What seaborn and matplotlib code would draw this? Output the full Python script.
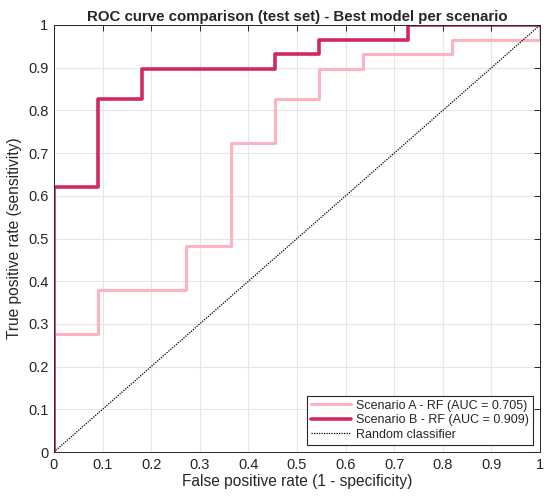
import numpy as np
import pandas as pd
import matplotlib
matplotlib.use("Agg")
import matplotlib.pyplot as plt
import seaborn as sns

# ---------- Data (ROC vertices) ----------
fpr_a = [0, 0, 0.0909, 0.0909, 0.2727, 0.2727, 0.3636, 0.3636, 0.4545, 0.4545,
         0.5455, 0.5455, 0.6364, 0.6364, 0.8182, 0.8182, 1.0, 1.0]
tpr_a = [0, 0.2759, 0.2759, 0.3793, 0.3793, 0.4828, 0.4828, 0.7241, 0.7241, 0.8276,
         0.8276, 0.8966, 0.8966, 0.9310, 0.9310, 0.9655, 0.9655, 1.0]

fpr_b = [0, 0, 0.0909, 0.0909, 0.1818, 0.1818, 0.4545, 0.4545, 0.5455, 0.5455,
         0.7273, 0.7273, 1.0]
tpr_b = [0, 0.6207, 0.6207, 0.8276, 0.8276, 0.8966, 0.8966, 0.9310, 0.9310, 0.9655,
         0.9655, 1.0, 1.0]

label_a = "Scenario A - RF (AUC = 0.705)"
label_b = "Scenario B - RF (AUC = 0.909)"
ticks = np.round(np.arange(0, 1.01, 0.1), 1)
tick_labels = ["0", "0.1", "0.2", "0.3", "0.4", "0.5", "0.6", "0.7", "0.8", "0.9", "1"]

# ---------- Setup ----------
sns.set_style("white")
plt.rcParams['font.family'] = ['Liberation Sans', 'DejaVu Sans']

roc_a = pd.DataFrame({'fpr': fpr_a, 'tpr': tpr_a})
roc_b = pd.DataFrame({'fpr': fpr_b, 'tpr': tpr_b})

fig = plt.figure(figsize=(5.5, 5), dpi=100)
ax = fig.add_axes([0.098, 0.096, 0.884, 0.854])

sns.lineplot(data=roc_a, x='fpr', y='tpr', sort=False, estimator=None,
             color="#FFB3C1", linewidth=2.2, label=label_a, ax=ax)
sns.lineplot(data=roc_b, x='fpr', y='tpr', sort=False, estimator=None,
             color="#D0285F", linewidth=2.6, label=label_b, ax=ax)
ax.plot([0, 1], [0, 1], linestyle=(0, (1, 1)), color="black", linewidth=0.9,
        label="Random classifier")

ax.set_xlim(0, 1)
ax.set_ylim(0, 1)
ax.set_xticks(ticks)
ax.set_yticks(ticks)
ax.set_xticklabels(tick_labels)
ax.set_yticklabels(tick_labels)
ax.tick_params(direction='in', length=4, width=0.7, top=True, right=True,
               labelsize=10.5, colors="#262626", pad=4)
ax.grid(True, color="#E6E6E6", linewidth=0.8)
ax.set_axisbelow(True)
for s in ax.spines.values():
    s.set_color("#262626")
    s.set_linewidth(0.7)

ax.set_title("ROC curve comparison (test set) - Best model per scenario",
             fontsize=10.8, fontweight='bold', pad=3)
ax.set_xlabel("False positive rate (1 - specificity)", fontsize=11.2, labelpad=2)
ax.set_ylabel("True positive rate (sensitivity)", fontsize=11.2, labelpad=4)

leg = ax.legend(loc='lower right', fontsize=9, frameon=True, fancybox=False,
                edgecolor="#262626", framealpha=1, borderpad=0.3,
                handlelength=3.2, handletextpad=0.4, labelspacing=0.2,
                borderaxespad=0.6)
leg.get_frame().set_linewidth(0.8)

fig.savefig("out.png", dpi=100)
